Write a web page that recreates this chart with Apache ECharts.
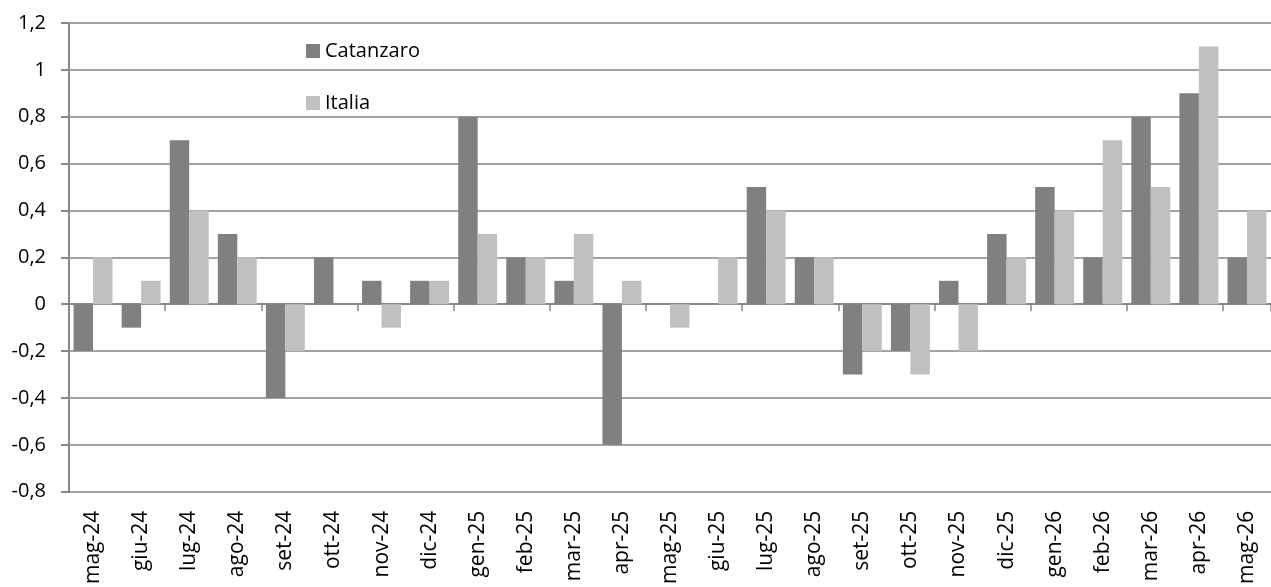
<!DOCTYPE html>
<html>
<head>
<meta charset="utf-8">
<script src="https://cdn.jsdelivr.net/npm/echarts@6/dist/echarts.min.js"></script>
<style>
html,body{margin:0;padding:0;background:#fff;}
#chart{width:1271px;height:587px;}
</style>
</head>
<body>
<div id="chart"></div>
<script>
const categories = ['mag-24','giu-24','lug-24','ago-24','set-24','ott-24','nov-24','dic-24','gen-25','feb-25','mar-25','apr-25','mag-25','giu-25','lug-25','ago-25','set-25','ott-25','nov-25','dic-25','gen-26','feb-26','mar-26','apr-26','mag-26'];
const catanzaro = [-0.2,-0.1,0.7,0.3,-0.4,0.2,0.1,0.1,0.8,0.2,0.1,-0.6,0,0,0.5,0.2,-0.3,-0.2,0.1,0.3,0.5,0.2,0.8,0.9,0.2];
const italia = [0.2,0.1,0.4,0.2,-0.2,0,-0.1,0.1,0.3,0.2,0.3,0.1,-0.1,0.2,0.4,0.2,-0.2,-0.3,-0.2,0.2,0.4,0.7,0.5,1.1,0.4];
const seriesNames = ['Catanzaro','Italia'];

const FONT = 'Open Sans';
const chart = echarts.init(document.getElementById('chart'), null, {renderer:'canvas'});
const axisGray = '#888888';
chart.setOption({
  animation:false,
  backgroundColor:'#ffffff',
  textStyle:{fontFamily:FONT},
  legend:{
    orient:'vertical', left:301, top:36, itemWidth:14, itemHeight:14, itemGap:32,
    icon:'rect',
    textStyle:{fontFamily:FONT, fontSize:20, color:'#000'},
    data:seriesNames
  },
  grid:{left:69, top:23, right:-9, bottom:94, containLabel:false},
  xAxis:[
    {type:'category', data:categories, position:'bottom',
     axisLine:{show:true, onZero:true, lineStyle:{color:axisGray, width:2}},
     axisTick:{show:true, length:7, alignWithLabel:false, lineStyle:{color:axisGray, width:1.5}},
     axisLabel:{show:false}, splitLine:{show:false}},
    {type:'category', data:categories, position:'bottom',
     axisLine:{show:false, onZero:false}, axisTick:{show:false},
     axisLabel:{show:true, rotate:90, margin:19, interval:0,
       fontFamily:FONT, fontSize:21, color:'#000'},
     splitLine:{show:false}}
  ],
  yAxis:{
    type:'value', min:-0.8, max:1.2, interval:0.2,
    axisLine:{show:true, lineStyle:{color:axisGray, width:2}},
    axisTick:{show:true, length:8, lineStyle:{color:axisGray, width:2}},
    splitLine:{show:true, lineStyle:{color:'#a3a3a3', width:2}},
    axisLabel:{margin:23, fontFamily:FONT, fontSize:20, color:'#000',
      formatter:function(v){ const r = Math.round(v*10)/10; return String(r).replace('.',','); }}
  },
  series:[
    {name:seriesNames[0], type:'bar', data:catanzaro, xAxisIndex:0,
     barGap:'0%', barCategoryGap:'19%', itemStyle:{color:'#808080'}},
    {name:seriesNames[1], type:'bar', data:italia, xAxisIndex:0,
     barGap:'0%', barCategoryGap:'19%', itemStyle:{color:'#c0c0c0'}}
  ]
});
</script>
</body>
</html>
